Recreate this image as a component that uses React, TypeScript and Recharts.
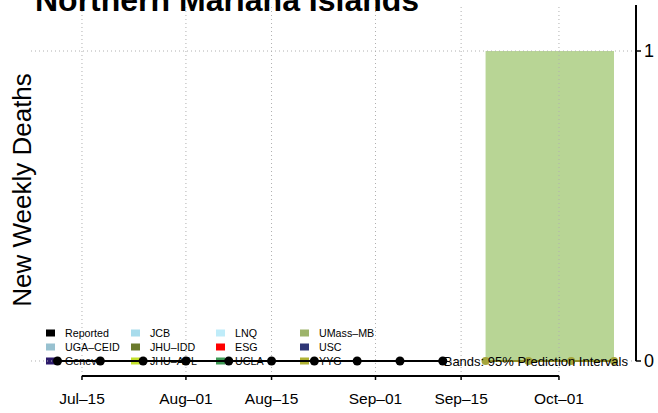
import React from "react";
import {
  ComposedChart,
  Line,
  Area,
  XAxis,
  YAxis,
  ReferenceLine,
} from "recharts";

// weekly reported deaths (week ending dates)
const reportedDates = [
  "2020-07-11", "2020-07-18", "2020-07-25", "2020-08-01", "2020-08-08",
  "2020-08-15", "2020-08-22", "2020-08-29", "2020-09-05", "2020-09-12",
];
const reportedDeaths = [0, 0, 0, 0, 0, 0, 0, 0, 0, 0];

// forecast (UMass-MB) with 95% prediction interval
const forecastDates = ["2020-09-19", "2020-09-26", "2020-10-03", "2020-10-10"];
const forecastMedian = [0, 0, 0, 0];
const forecastLower = [0, 0, 0, 0];
const forecastUpper = [1, 1, 1, 1];

const tickDates = ["2020-07-15", "2020-08-01", "2020-08-15", "2020-09-01", "2020-09-15", "2020-10-01"];
const tickLabels = ["Jul\u201315", "Aug\u201301", "Aug\u201315", "Sep\u201301", "Sep\u201315", "Oct\u201301"];
const yTicks = [0, 1];

const legendLabels = [
  "Reported", "UGA\u2013CEID", "Geneva",
  "JCB", "JHU\u2013IDD", "JHU\u2013APL",
  "LNQ", "ESG", "UCLA",
  "UMass\u2013MB", "USC", "YYG",
];
const legendColors = [
  "#000000", "#98c1d0", "#2c1a6b",
  "#a8dcec", "#6b7a2c", "#c3e02a",
  "#bfecf9", "#ff0000", "#3e9a55",
  "#9db46b", "#2e3676", "#b0b233",
];

const FONT = "'Liberation Sans', Arial, Helvetica, sans-serif";

// days since 2020-07-01
const toDay = (s: string) =>
  (Date.parse(s + "T00:00:00Z") - Date.parse("2020-07-01T00:00:00Z")) / 86400000;

const X_MIN = 5.5;
const X_MAX = 104.6;
const Y_MIN = -0.0484;
const Y_MAX = 1.1484;

const reportedData = reportedDates.map((d, i) => ({ day: toDay(d), value: reportedDeaths[i] }));
const forecastData = forecastDates.map((d, i) => ({
  day: toDay(d),
  median: forecastMedian[i],
  band: [forecastLower[i], forecastUpper[i]],
}));
const ticks = tickDates.map(toDay);
const labelFor = (v: number) => tickLabels[ticks.indexOf(v)] ?? "";

const colX = [46, 131, 216, 300];
const rowY = [333, 347, 361];

const App = () => {
  return (
    <div style={{ position: "absolute", left: 0, top: 0, width: 658, height: 413, fontFamily: FONT, background: "#fff" }}>
      {/* legend sits under the plot, the reported points are drawn across it */}
      <svg width={658} height={413} style={{ position: "absolute", left: 0, top: 0, zIndex: 0 }}>
        {legendLabels.map((lab, i) => {
          const c = Math.floor(i / 3);
          const r = i % 3;
          return (
            <g key={lab}>
              <rect x={colX[c]} y={rowY[r] - 3.5} width={9} height={7} fill={legendColors[i]} />
              <text x={colX[c] + 19} y={rowY[r]} dominantBaseline="central" fontSize={10.7} fontFamily={FONT} fill="#000">
                {lab}
              </text>
            </g>
          );
        })}
      </svg>
      <div style={{ position: "absolute", left: 0, top: 0, zIndex: 1 }}>
        <ComposedChart
          width={658}
          height={413}
          margin={{ top: 5, right: 0, bottom: 0, left: 30 }}
          style={{ fontFamily: FONT }}
        >
          <XAxis
            dataKey="day"
            type="number"
            domain={[X_MIN, X_MAX]}
            ticks={ticks}
            tickFormatter={labelFor}
            allowDataOverflow
            axisLine={false}
            tickLine={{ stroke: "#000", strokeWidth: 1.5 }}
            tickSize={4}
            tickMargin={13}
            height={37}
            tick={{ fill: "#000", fontSize: 15.5 }}
          />
          <YAxis
            yAxisId="r"
            orientation="right"
            type="number"
            domain={[Y_MIN, Y_MAX]}
            ticks={yTicks}
            allowDataOverflow
            axisLine={false}
            tickLine={{ stroke: "#000", strokeWidth: 1.5 }}
            tickSize={5}
            tickMargin={3}
            width={22}
            tick={{ fill: "#000", fontSize: 18 }}
          />
          <Area
            yAxisId="r"
            data={forecastData}
            dataKey="band"
            type="linear"
            stroke="none"
            fill="#b8d595"
            fillOpacity={1}
            isAnimationActive={false}
          />
          {/* dotted grid at the tick positions */}
          {ticks.map((t) => (
            <ReferenceLine key={"v" + t} yAxisId="r" x={t} stroke="#b0b0b0" strokeDasharray="1 3" />
          ))}
          {yTicks.map((t) => (
            <ReferenceLine key={"h" + t} yAxisId="r" y={t} stroke="#b0b0b0" strokeDasharray="1 3" />
          ))}
          <ReferenceLine
            yAxisId="r"
            segment={[{ x: X_MAX, y: 0 }, { x: X_MAX, y: Y_MAX }]}
            stroke="#000"
            strokeWidth={2}
            ifOverflow="visible"
          />
          <ReferenceLine
            yAxisId="r"
            segment={[{ x: ticks[0], y: Y_MIN }, { x: ticks[ticks.length - 1], y: Y_MIN }]}
            stroke="#000"
            strokeWidth={2}
            ifOverflow="visible"
          />
          <Line
            yAxisId="r"
            data={reportedData}
            dataKey="value"
            type="linear"
            stroke="#000"
            strokeWidth={2}
            dot={{ r: 4.5, fill: "#000", stroke: "#000", strokeWidth: 0 }}
            isAnimationActive={false}
          />
          <Line
            yAxisId="r"
            data={forecastData}
            dataKey="median"
            type="linear"
            stroke="#8f8f2a"
            strokeWidth={2}
            dot={{ r: 4, fill: "#a5a53b", stroke: "#a5a53b", strokeWidth: 0 }}
            isAnimationActive={false}
          />
        </ComposedChart>
      </div>
      <svg width={658} height={413} style={{ position: "absolute", left: 0, top: 0, zIndex: 2, pointerEvents: "none" }}>
        <text x={35} y={10.5} fontSize={32} fontWeight="bold" fontFamily={FONT} fill="#000">
          Northern Mariana Islands
        </text>
        <text
          x={22}
          y={190}
          fontSize={26}
          fontFamily={FONT}
          textAnchor="middle"
          dominantBaseline="central"
          transform="rotate(-90 22 190)"
          fill="#000"
        >
          New Weekly Deaths
        </text>
        <text x={628} y={361} fontSize={13} fontFamily={FONT} textAnchor="end" dominantBaseline="central" fill="#000">
          Bands: 95% Prediction Intervals
        </text>
      </svg>
    </div>
  );
};

export default App;
